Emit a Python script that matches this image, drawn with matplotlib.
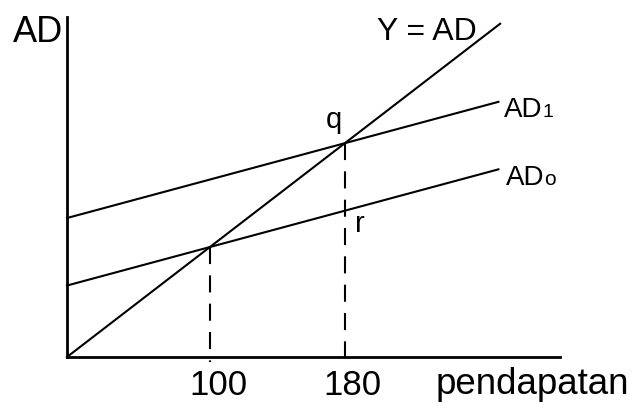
import numpy as np
import matplotlib
matplotlib.use("Agg")
import matplotlib.pyplot as plt

plt.rcParams['font.family'] = ['Liberation Sans', 'DejaVu Sans']

# income range drawn for the schedules
income = np.array([15.3, 271])
# AD = a + c*Y
ad0_const = 65
ad1_const = 117
mpc = 0.35
eq_income = [100, 180]
eq_labels = ["100", "180"]

ad0 = ad0_const + mpc*income
ad1 = ad1_const + mpc*income

W, H = 636, 403
fig = plt.figure(figsize=(W/100, H/100), dpi=100)
ax = fig.add_axes([67/W, (H-357)/H, (560-67)/W, (357-17)/H])
ax.set_xlim(15.3, 307.5)
ax.set_ylim(15.3, 277.2)
for s in ["top", "right"]:
	ax.spines[s].set_visible(False)
for s in ["left", "bottom"]:
	ax.spines[s].set_linewidth(2)
ax.set_xticks([])
ax.set_yticks([])

ax.plot([income[0], 272], [income[0], 272], color="black", lw=1.5, clip_on=False)
ax.plot(income, ad1, color="black", lw=1.5, clip_on=False)
ax.plot(income, ad0, color="black", lw=1.5, clip_on=False)

# dashed drop lines from the equilibria
for x in eq_income:
	ax.plot([x, x], [x, 11.5], color="black", lw=1.5, linestyle=(0, (8.2, 5.4)), clip_on=False)

def txt(px, py, s, size, ha="left"):
	fig.text(px/W, 1-py/H, s, fontsize=size, ha=ha, va="baseline")

txt(13, 42, "AD", 26)
txt(377, 40, "Y = AD", 23)
txt(504, 117, "AD", 20)
txt(542, 117, "1", 14)
txt(506, 185, "AD", 20)
txt(544, 185, "o", 15)
txt(334, 128, "q", 21, ha="center")
txt(355, 232, "r", 21)
txt(218, 395, eq_labels[0], 25, ha="center")
txt(352, 395, eq_labels[1], 25, ha="center")
txt(436, 394, "pendapatan", 26.5)

fig.savefig("out.png", dpi=100)
